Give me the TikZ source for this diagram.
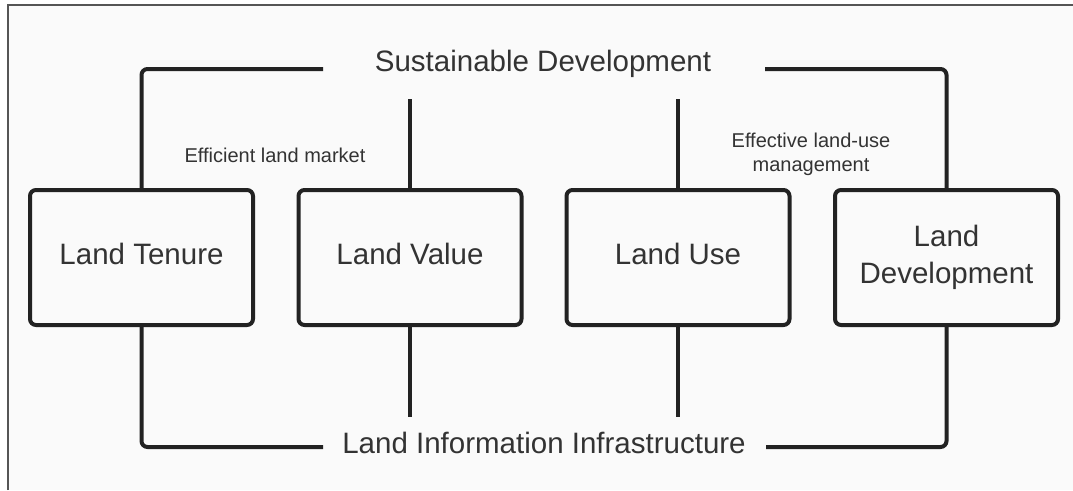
\documentclass[tikz,border=0pt]{standalone}
\usepackage{fontspec}
\setmainfont{Liberation Sans}
\definecolor{linec}{HTML}{222222}
\definecolor{textc}{HTML}{333333}
\definecolor{framec}{HTML}{555555}
\definecolor{bgc}{HTML}{FAFAFA}
\begin{document}
\begin{tikzpicture}[x=1pt,y=-1pt,
  box/.style={draw=linec, line width=4pt, rounded corners=6pt, minimum width=223pt, minimum height=135pt, inner sep=0pt, align=center, text=textc, font=\fontsize{29.5}{37}\selectfont},
  oneline/.style={text depth=8pt},
  big/.style={text=textc, inner sep=0pt, font=\fontsize{29.5}{37}\selectfont},
  small/.style={text=textc, inner sep=0pt, align=center, font=\fontsize{20}{24}\selectfont},
  conn/.style={draw=linec, line width=4pt, rounded corners=6pt}]
\useasboundingbox (0,0) rectangle (1073,490);
\fill[white] (0,0) rectangle (1073,490);
\fill[bgc] (8,5) rectangle (1073,490);
\draw[framec, line width=1.5pt] (8,490) -- (8,5) -- (1073,5);

\node[box, oneline] (T) at (141.5,257.5) {Land Tenure};
\node[box, oneline] (V) at (410,257.5) {Land Value};
\node[box, oneline] (U) at (678,257.5) {Land Use};
\node[box] (D) at (946.5,257.5) {Land\\Development};

\node[big] (SD) at (543,64) {Sustainable Development};
\node[big] (LII) at (544,443) {Land Information Infrastructure};
\node[small] (ELM) at (275,155) {Efficient land market};
\node[small] (ELU) at (811,154) {Effective land-use\\management};

\coordinate (tl) at (323,69);
\coordinate (tr) at (765,69);
\coordinate (bl) at (323,447);
\coordinate (br) at (766,447);
\coordinate (vt) at (410,99);
\coordinate (ut) at (678,99);
\coordinate (vb) at (410,417);
\coordinate (ub) at (678,417);

\draw[conn] (T.north) |- (tl);
\draw[conn] (D.north) |- (tr);
\draw[conn] (T.south) |- (bl);
\draw[conn] (D.south) |- (br);
\draw[conn] (V.north) -- (vt);
\draw[conn] (U.north) -- (ut);
\draw[conn] (V.south) -- (vb);
\draw[conn] (U.south) -- (ub);
\end{tikzpicture}
\end{document}
